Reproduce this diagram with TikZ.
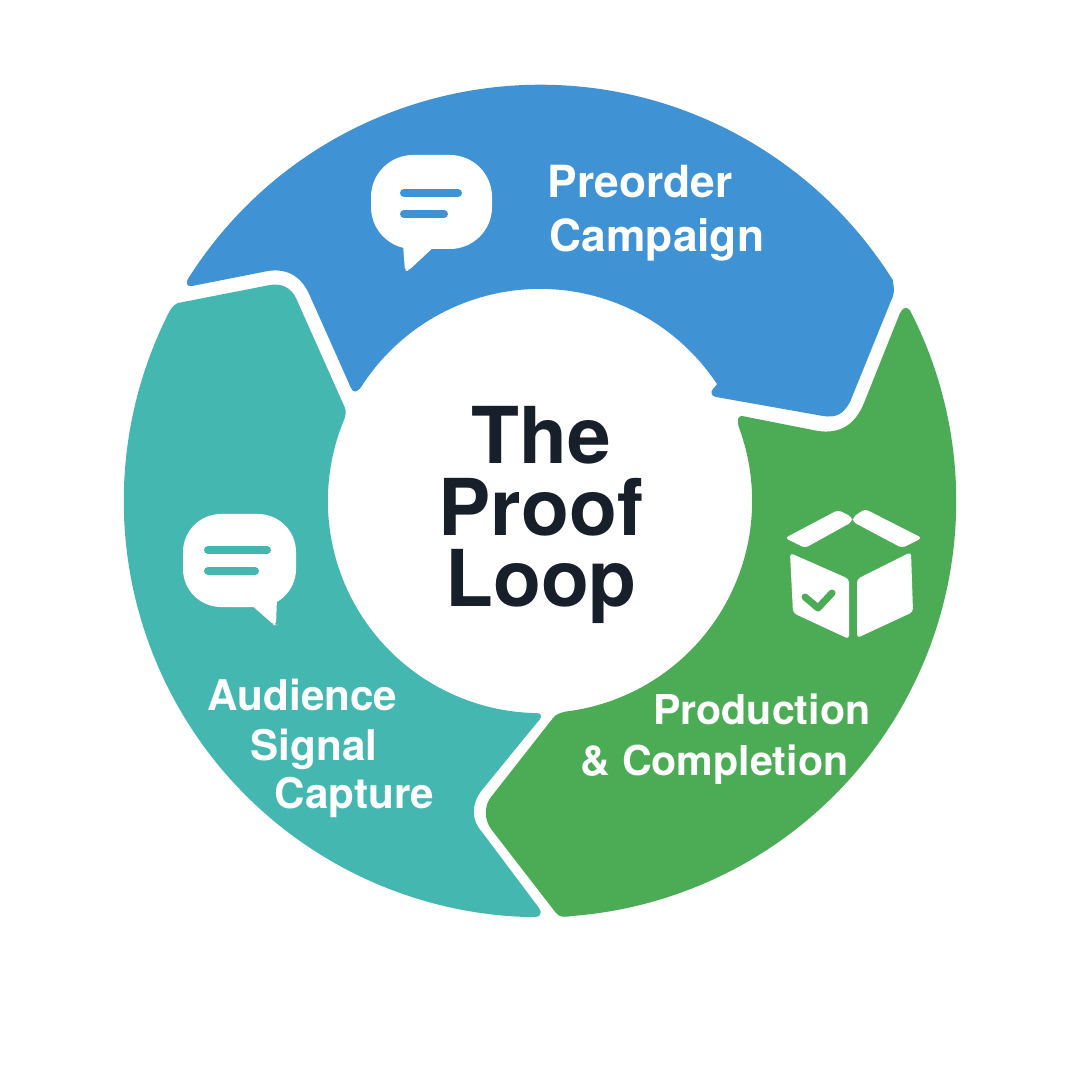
\documentclass[tikz,border=0pt]{standalone}
\usepackage{fontspec}
\setmainfont{TeX Gyre Heros}
\usetikzlibrary{calc}
\definecolor{loopblue}{HTML}{3F92D3}
\definecolor{loopteal}{HTML}{45B7B1}
\definecolor{loopgreen}{HTML}{4CAC56}
\definecolor{loopink}{HTML}{17202A}

\begin{document}
\begin{tikzpicture}[x=0.01cm,y=-0.01cm]
    \tikzset{
        seglabel/.style={text=white,font=\fontsize{#1}{14}\selectfont\bfseries,inner sep=0pt},
        iconfill/.style={fill=white,rounded corners=1pt},
        bubbleline/.style={line width=0.08cm,line cap=round}
    }
    \useasboundingbox (0,0) rectangle (1080,1080);
    \coordinate (cen) at (540,501);

    % segments
    \fill[loopblue] ($(cen)+(147.5:4.16cm)$) arc[start angle=147.5,end angle=32,radius=4.16cm]
        .. controls (893,285) and (895,290) .. (893,296) -- (850,402)
        .. controls (843,415) and (835,418) .. (823,416) -- (716,397)
        .. controls (711,396) and (710,392) .. (713,389) -- ($(cen)+(33.4:2.12cm)$)
        arc[start angle=33.4,end angle=147.2,radius=2.12cm]
        .. controls (357,393) and (353,393) .. (351,388) -- (310,296)
        .. controls (302,277) and (288,268) .. (268,271) -- (192,286)
        .. controls (187,287) and (185,283) .. cycle;
    \fill[loopteal] (178,303) -- (270,285)
        .. controls (282,283) and (291,288) .. (296,298) -- (345,408)
        .. controls (346,412) and (346,415) .. ($(cen)+(157:2.12cm)$)
        arc[start angle=157,end angle=269,radius=2.12cm]
        .. controls (541,713) and (542,716) .. (540,719) -- (482,790)
        .. controls (471,804) and (471,820) .. (482,832) -- (539,908)
        .. controls (543,914) and (540,918) .. ($(cen)+(268.6:4.16cm)$)
        arc[start angle=268.6,end angle=154,radius=4.16cm]
        .. controls (169,312) and (172,305) .. cycle;
    \fill[loopgreen] ($(cen)+(27.3:4.16cm)$) arc[start angle=27.3,end angle=-85.5,radius=4.16cm]
        .. controls (565,917) and (560,918) .. (556,913) -- (491,829)
        .. controls (484,819) and (484,806) .. (491,797) -- (553,718)
        .. controls (556,714) and (560,713) .. ($(cen)+(-83:2.12cm)$)
        arc[start angle=-83,end angle=20.8,radius=2.12cm]
        .. controls (738,420) and (737,416) .. (742,416) -- (818,431)
        .. controls (840,434) and (855,425) .. (864,403) -- (898,318)
        .. controls (902,307) and (906,306) .. cycle;

    % preorder icon
    \fill[white,rounded corners=0.42cm] (371,155) rectangle (492,249);
    \fill[iconfill] (403,245) -- (405,271) -- (408,271) -- (436,245) -- cycle;
    \draw[loopblue,bubbleline] (404,193) -- (458,193);
    \draw[loopblue,bubbleline] (404,214) -- (444,214);

    % audience icon
    \fill[white,rounded corners=0.38cm] (183,514) rectangle (296,607);
    \fill[iconfill] (249,603) -- (274,625) -- (276,625) -- (277,598) -- cycle;
    \draw[loopteal,bubbleline] (208,550) -- (267,550);
    \draw[loopteal,bubbleline] (208,571) -- (255,571);

    % production icon
    \fill[iconfill] (785,538) -- (838,510) -- (852,517) -- (852,522) -- (805,548) -- cycle;
    \fill[iconfill] (865,509) -- (922,538) -- (902,548) -- (853,522) -- (853,517) -- cycle;
    \fill[iconfill] (790,553) -- (849,579) -- (849,639) -- (793,613) -- cycle;
    \fill[iconfill] (857,579) -- (911,552) -- (913,612) -- (857,638) -- cycle;
    \draw[loopgreen,line width=0.07cm,line cap=round,line join=round]
        (805,597) -- (818,608) -- (832,593);

    % labels
    \node[seglabel=12.6,anchor=base west] (pre1) at (547,198) {Preorder};
    \node[seglabel=12.6,anchor=base west] (pre2) at (549,252) {Campaign};
    \node[seglabel=12,anchor=base west] (aud1) at (207,710) {Audience};
    \node[seglabel=12,anchor=base west] (aud2) at (250,760) {Signal};
    \node[seglabel=12,anchor=base west] (aud3) at (274,808) {Capture};
    \node[seglabel=11.7,anchor=base east] (pro1) at (871,724) {Production};
    \node[seglabel=11.7,anchor=base east] (pro2) at (849,775) {\& Completion};

    \node[text=loopink,font=\fontsize{22.3}{20.4}\selectfont\bfseries,align=center,inner sep=0pt] (title) at (541,515)
        {The\\Proof\\Loop};
\end{tikzpicture}
\end{document}
